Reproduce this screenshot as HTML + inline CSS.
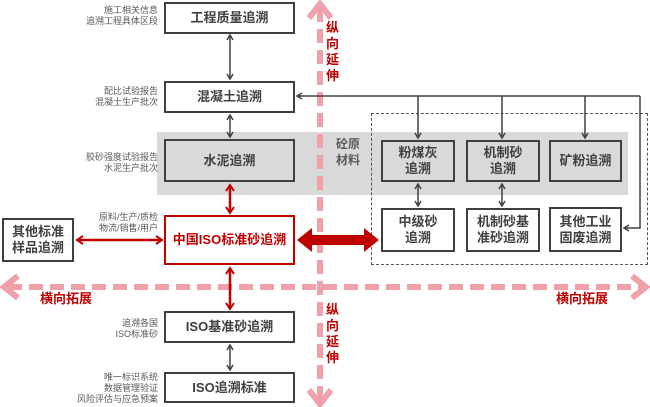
<!DOCTYPE html>
<html><head><meta charset="utf-8"><style>
body{margin:0;width:650px;height:407px;background:#fff;position:relative;overflow:hidden;font-family:"Liberation Sans","Noto Sans CJK SC",sans-serif}
.b{position:absolute;box-sizing:border-box;border:2.5px solid #404040;background:#fff;display:flex;align-items:center;justify-content:center;text-align:center;font-weight:bold;color:#404040;font-size:13px;line-height:16px}
.g{background:#d9d9d9}
.n{position:absolute;font-size:9px;line-height:11px;color:#595959;text-align:right}
.r{position:absolute;color:#c00000;font-weight:bold;font-size:13px;line-height:16px}
</style></head><body>
<div style="position:absolute;left:157px;top:132px;width:471px;height:63px;background:#d9d9d9"></div>
<div style="position:absolute;left:371px;top:113px;width:277px;height:152px;border:1px dashed #555;box-sizing:border-box"></div>
<svg width="650" height="407" style="position:absolute;left:0;top:0">
<defs>
<marker id="a" markerWidth="8" markerHeight="8" refX="6" refY="4" orient="auto-start-reverse" markerUnits="userSpaceOnUse"><path d="M1,1 L6,4 L1,7" fill="none" stroke="#404040" stroke-width="1.5"/></marker>
<marker id="ar" markerWidth="10" markerHeight="10" refX="7" refY="5" orient="auto-start-reverse" markerUnits="userSpaceOnUse"><path d="M1,1 L7,5 L1,9" fill="none" stroke="#c00000" stroke-width="2"/></marker>
</defs>
<g stroke="#f0a0a8" stroke-width="6" fill="none">
<line x1="320" y1="8" x2="320" y2="400" stroke-dasharray="14,7"/>
<line x1="8" y1="287" x2="642" y2="287" stroke-dasharray="14,7"/>
<path d="M309,18 L320,4 L331,18"/><path d="M309,390 L320,404 L331,390"/>
<path d="M18,276 L4,287 L18,298"/><path d="M632,276 L646,287 L632,298"/>
</g>
<g stroke="#404040" stroke-width="1.5" fill="none">
<line x1="230" y1="35" x2="230" y2="79" marker-start="url(#a)" marker-end="url(#a)"/>
<line x1="230" y1="115" x2="230" y2="137" marker-start="url(#a)" marker-end="url(#a)"/>
<line x1="230" y1="345" x2="230" y2="370" marker-start="url(#a)" marker-end="url(#a)"/>
<polyline points="640,96 640,228 624,228" marker-end="url(#a)"/>
<line x1="640" y1="96" x2="297" y2="96" marker-end="url(#a)"/>
<line x1="418" y1="96" x2="418" y2="138" marker-end="url(#a)"/>
<line x1="502" y1="96" x2="502" y2="138" marker-end="url(#a)"/>
<line x1="585" y1="96" x2="585" y2="138" marker-end="url(#a)"/>
<line x1="418" y1="184" x2="418" y2="206" marker-start="url(#a)" marker-end="url(#a)"/>
<line x1="502" y1="184" x2="502" y2="206" marker-start="url(#a)" marker-end="url(#a)"/>
</g>
<g stroke="#c00000" stroke-width="2.5" fill="none">
<line x1="230" y1="185" x2="230" y2="213" marker-start="url(#ar)" marker-end="url(#ar)"/>
<line x1="230" y1="268" x2="230" y2="309" marker-start="url(#ar)" marker-end="url(#ar)"/>
<line x1="77" y1="240" x2="162" y2="240" marker-start="url(#ar)" marker-end="url(#ar)"/>
</g>
<path d="M297,240 L312,228 L312,235 L364,235 L364,228 L379,240 L364,252 L364,245 L312,245 L312,252 Z" fill="#c00000"/>
</svg>
<div class="b" style="left:164px;top:2px;width:131px;height:32px">工程质量追溯</div>
<div class="b" style="left:164px;top:81px;width:131px;height:32px">混凝土追溯</div>
<div class="b g" style="left:164px;top:139px;width:131px;height:43px">水泥追溯</div>
<div class="b" style="left:164px;top:215px;width:131px;height:50px;border-color:#c00000;color:#c00000">中国ISO标准砂追溯</div>
<div class="b" style="left:164px;top:311px;width:131px;height:32px">ISO基准砂追溯</div>
<div class="b" style="left:164px;top:372px;width:131px;height:31px">ISO追溯标准</div>
<div class="b" style="left:2px;top:218px;width:72px;height:44px">其他标准<br>样品追溯</div>
<div class="b g" style="left:381px;top:140px;width:74px;height:42px">粉煤灰<br>追溯</div>
<div class="b g" style="left:466px;top:140px;width:74px;height:42px">机制砂<br>追溯</div>
<div class="b g" style="left:549px;top:140px;width:73px;height:42px">矿粉追溯</div>
<div class="b" style="left:381px;top:208px;width:74px;height:44px">中级砂<br>追溯</div>
<div class="b" style="left:466px;top:208px;width:74px;height:44px">机制砂基<br>准砂追溯</div>
<div class="b" style="left:549px;top:207px;width:73px;height:45px">其他工业<br>固废追溯</div>
<div class="n" style="right:492px;top:5px">施工相关信息<br>追溯工程具体区段</div>
<div class="n" style="right:492px;top:86px">配比试验报告<br>混凝土生产批次</div>
<div class="n" style="right:492px;top:152px">胶砂强度试验报告<br>水泥生产批次</div>
<div class="n" style="right:492px;top:212px">原料/生产/质检<br>物流/销售/用户</div>
<div class="n" style="right:492px;top:318px">追溯各国<br>ISO标准砂</div>
<div class="n" style="right:492px;top:372px">唯一标识系统<br>数据管理验证<br>风险评估与应急预案</div>
<div style="position:absolute;left:336px;top:136px;font-size:12px;line-height:16px;font-weight:bold;color:#595959">砼原<br>材料</div>
<div class="r" style="left:326px;top:20px;width:14px">纵向延伸</div>
<div class="r" style="left:326px;top:302px;width:14px">纵向延伸</div>
<div class="r" style="left:40px;top:291px">横向拓展</div>
<div class="r" style="left:556px;top:291px">横向拓展</div>
</body></html>
